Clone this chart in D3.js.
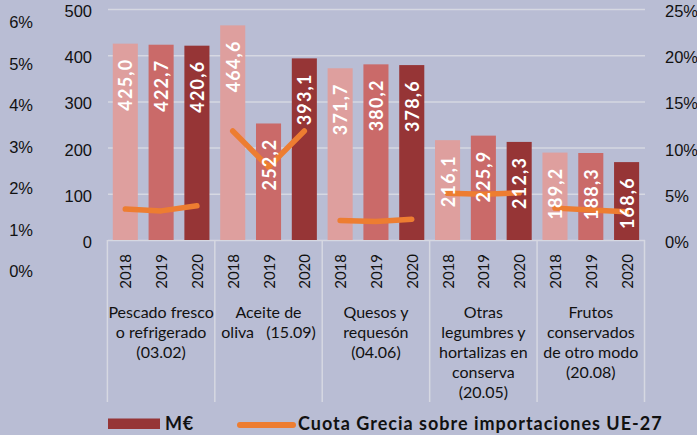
<!DOCTYPE html>
<html><head><meta charset="utf-8">
<script src="https://cdn.jsdelivr.net/npm/d3@7"></script>
<style>
html,body{margin:0;padding:0;background:#B9BDD4;}
svg{display:block;font-family:Lato,"Open Sans",sans-serif;}
</style>
</head><body>
<svg id="c" width="697" height="435"></svg>
<script>
const categories = ["Pescado fresco\no refrigerado\n(03.02)", "Aceite de\noliva   (15.09)", "Quesos y\nrequesón\n(04.06)", "Otras\nlegumbres y\nhortalizas en\nconserva\n(20.05)", "Frutos\nconservados\nde otro modo\n(20.08)"];
const years = ["2018", "2019", "2020"];
const values2018 = [425.0, 464.6, 371.7, 216.1, 189.2];
const values2019 = [422.7, 252.2, 380.2, 225.9, 188.3];
const values2020 = [420.6, 393.1, 378.6, 212.3, 168.6];
const share2018 = [3.35, 11.8, 2.1, 5.05, 3.45];
const share2019 = [3.15, 7.9, 2.0, 4.95, 3.25];
const share2020 = [3.7, 11.8, 2.25, 5.1, 3.05];
const leftTicks = [0, 100, 200, 300, 400, 500];
const rightTicks = [0, 5, 10, 15, 20, 25];
const outerTicks = [0, 1, 2, 3, 4, 5, 6];
const legendLabels = ["M€", "Cuota Grecia sobre importaciones UE-27"];

const barColors = {"2018": "#DE9F9E", "2019": "#CA6A69", "2020": "#963536"};
const lineColor = "#ED7D31";
const gridColor = "#D6D8E2";

const svg = d3.select("#c");
svg.append("rect").attr("width", 697).attr("height", 435).attr("fill", "#B9BDD4");

const x0 = d3.scaleBand().domain(d3.range(categories.length)).range([107.4, 644.5]).padding(0);
const x1 = d3.scaleBand().domain(years).range([0, x0.bandwidth()]).paddingInner(0.3).paddingOuter(0.15);
const y = d3.scaleLinear().domain([0, 500]).range([240, 9]);
const yR = d3.scaleLinear().domain([0, 25]).range([240, 9]);
const yO = d3.scaleLinear().domain([0, 6]).range([270, 21]);

const series = {"2018": values2018, "2019": values2019, "2020": values2020};
const shares = {"2018": share2018, "2019": share2019, "2020": share2020};

// gridlines + left axis
const gl = svg.append("g").attr("transform", "translate(108,0)")
  .call(d3.axisLeft(y).tickValues(leftTicks).tickSize(-537).tickPadding(16).tickFormat(d3.format("d")));
gl.select(".domain").remove();
gl.selectAll(".tick line").attr("stroke", gridColor).attr("stroke-width", 1.5);
gl.selectAll(".tick text").attr("font-size", 16.5).attr("dy", "0.45em").attr("fill", "#111");

// right axis
const gr = svg.append("g").attr("transform", "translate(645,0)")
  .call(d3.axisRight(yR).tickValues(rightTicks).tickSize(0).tickPadding(20).tickFormat(d => d + "%"));
gr.select(".domain").remove();
gr.selectAll(".tick text").attr("font-size", 16.5).attr("dy", "0.45em").attr("fill", "#111");

// outer left percent axis
const go = svg.append("g").attr("transform", "translate(33,0)")
  .call(d3.axisLeft(yO).tickValues(outerTicks).tickSize(0).tickPadding(0).tickFormat(d => d + "%"));
go.select(".domain").remove();
go.selectAll(".tick text").attr("font-size", 16.5).attr("dy", "0.4em").attr("fill", "#111");

// category separators
const seps = d3.range(categories.length + 1).map(i => i < categories.length ? x0(i) : x0(categories.length - 1) + x0.bandwidth());
svg.append("g").selectAll("line").data(seps).join("line")
  .attr("x1", d => d).attr("x2", d => d).attr("y1", 240).attr("y2", 402)
  .attr("stroke", gridColor).attr("stroke-width", 1.5);

// bars
const groups = svg.append("g").selectAll("g").data(categories).join("g")
  .attr("transform", (d, i) => `translate(${x0(i)},0)`);
groups.selectAll("rect").data((d, i) => years.map(yr => ({yr, v: series[yr][i]}))).join("rect")
  .attr("x", d => x1(d.yr)).attr("width", x1.bandwidth())
  .attr("y", d => y(d.v)).attr("height", d => y(0) - y(d.v))
  .attr("fill", d => barColors[d.yr]);

// lines
const line = d3.line().x(d => d.x).y(d => yR(d.v));
groups.append("path")
  .attr("d", (d, i) => line(years.map(yr => ({x: x1(yr) + x1.bandwidth() / 2, v: shares[yr][i]}))))
  .attr("fill", "none").attr("stroke", lineColor).attr("stroke-width", 5.5)
  .attr("stroke-linecap", "round").attr("stroke-linejoin", "round");

// bar value labels
const fmt = v => d3.format(".1f")(v).replace(".", ",");
groups.selectAll("text.val").data((d, i) => years.map(yr => ({yr, v: series[yr][i]}))).join("text")
  .attr("class", "val")
  .attr("transform", d => `translate(${x1(d.yr) + x1.bandwidth() / 2},${y(d.v) + 15}) rotate(-90)`)
  .attr("text-anchor", "end").attr("dominant-baseline", "central")
  .attr("fill", "#fff").attr("font-weight", "bold").attr("font-size", 18).attr("letter-spacing", 1.2)
  .text(d => fmt(d.v));

// year labels
groups.selectAll("text.yr").data(years).join("text")
  .attr("class", "yr")
  .attr("transform", d => `translate(${x1(d) + x1.bandwidth() / 2},254) rotate(-90)`)
  .attr("text-anchor", "end").attr("dominant-baseline", "central")
  .attr("fill", "#111").attr("font-size", 15)
  .text(d => d);

// category labels
groups.append("text")
  .attr("text-anchor", "middle").attr("fill", "#111").attr("font-size", 16)
  .style("white-space", "pre")
  .selectAll("tspan").data(d => d.split("\n")).join("tspan")
  .attr("x", x0.bandwidth() / 2).attr("y", (d, j) => 318 + j * 20)
  .text(d => d);

// legend
const lg = svg.append("g");
lg.append("rect").attr("x", 108).attr("y", 418.5).attr("width", 52).attr("height", 10.5).attr("fill", barColors["2020"]);
lg.append("text").attr("x", 165).attr("y", 430).attr("font-size", 18).attr("font-weight", "bold").attr("letter-spacing", 0.8).attr("fill", "#111").text(legendLabels[0]);
lg.append("line").attr("x1", 240).attr("x2", 293).attr("y1", 425).attr("y2", 425)
  .attr("stroke", lineColor).attr("stroke-width", 6).attr("stroke-linecap", "round");
lg.append("text").attr("x", 298).attr("y", 430).attr("font-size", 18).attr("font-weight", "bold").attr("letter-spacing", 1).attr("fill", "#111").text(legendLabels[1]);
</script>
</body></html>
